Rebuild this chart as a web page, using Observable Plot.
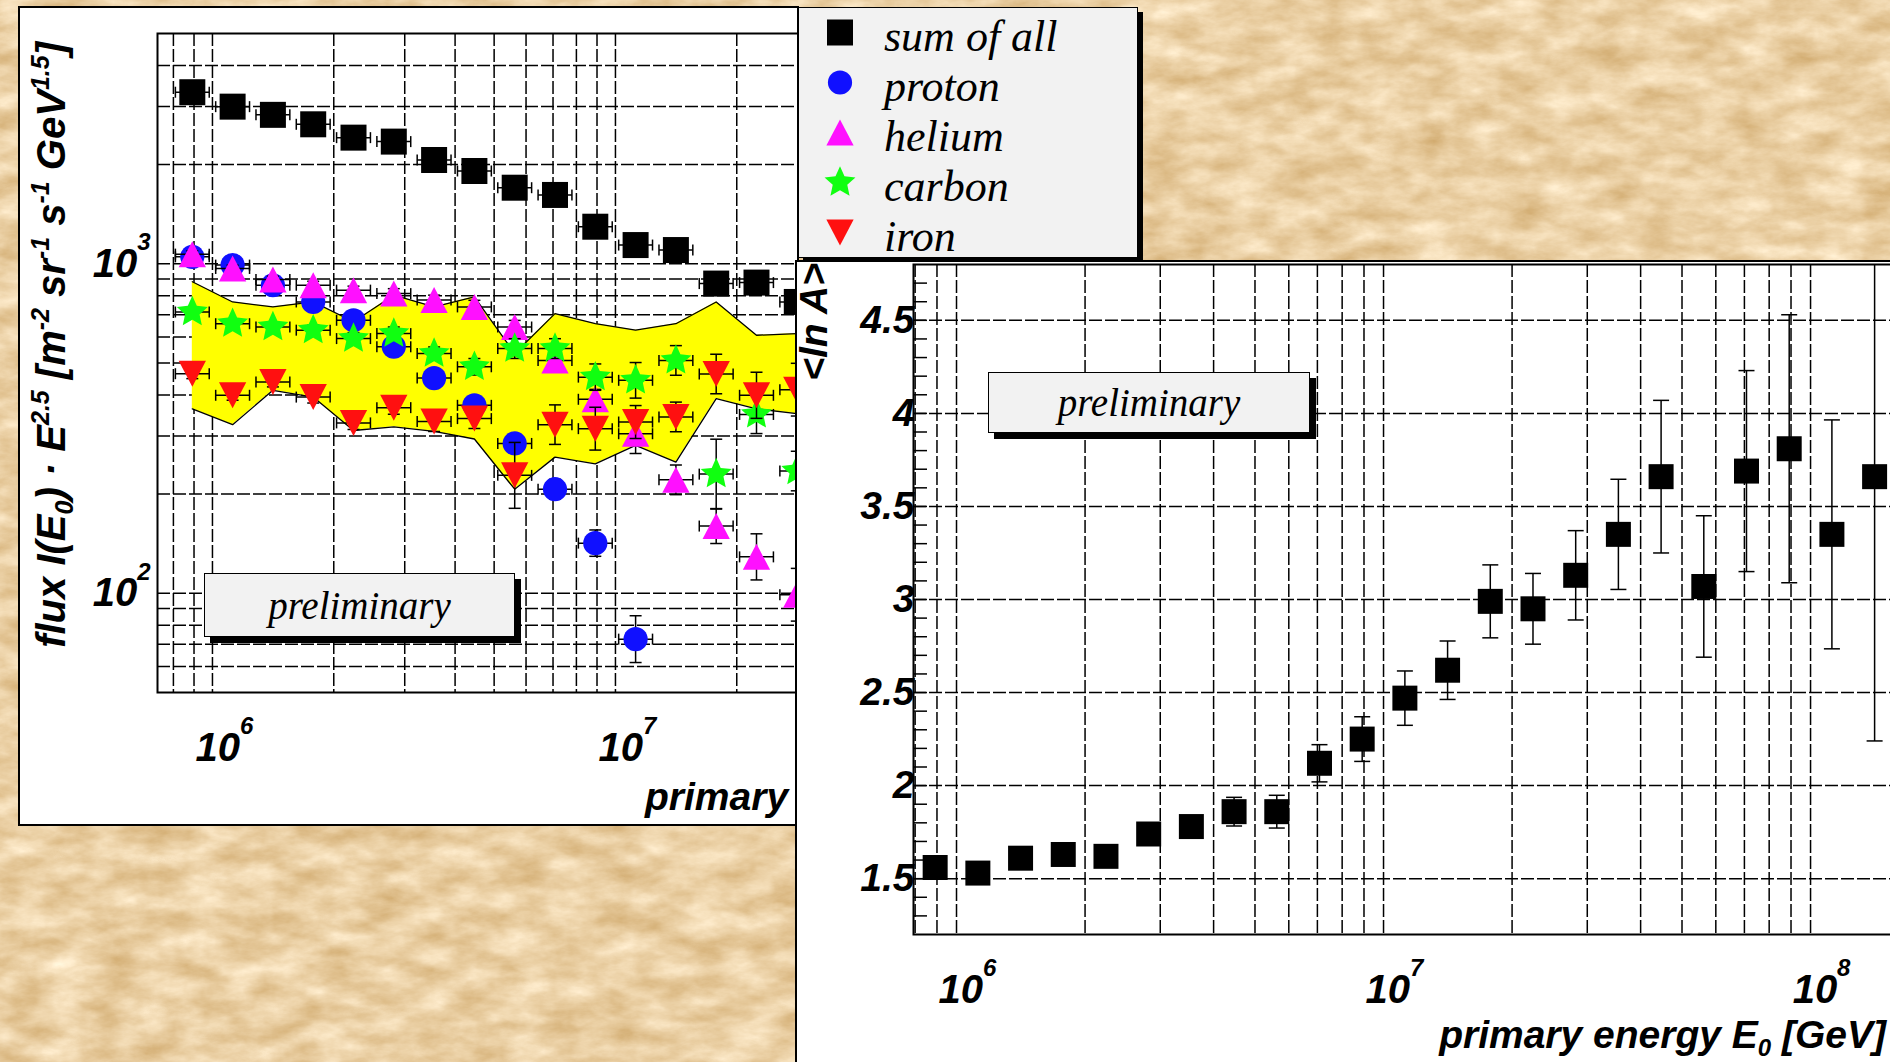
<!DOCTYPE html>
<html>
<head>
<meta charset="utf-8">
<script src="https://cdn.jsdelivr.net/npm/d3@7"></script>
<script src="https://cdn.jsdelivr.net/npm/@observablehq/plot@0.6"></script>
<style>
  html, body { margin: 0; padding: 0; }
  body { width: 1890px; height: 1062px; overflow: hidden; position: relative; background: #e7cfa3; }
  #paper { position: absolute; left: 0; top: 0; }
  .panel { position: absolute; background: #fff; overflow: hidden; }
  .panel > svg { position: absolute; left: 0; top: 0; }
  .frame { position: absolute; inset: 0; border: 2px solid #000; box-sizing: border-box; pointer-events: none; }
  .prelim { position: absolute; background: #f2f2f2; border: 1.5px solid #000; box-sizing: border-box;
            box-shadow: 6px 6px 0 #000; font: italic 39px "Liberation Serif", serif; color: #000;
            display: flex; align-items: center; justify-content: center; }
  #legend { position: absolute; left: 798px; top: 7px; width: 340px; height: 251px; background: #f2f2f2;
            border: 1.5px solid #000; box-sizing: border-box; box-shadow: 5px 5px 0 #000; }
  #legend > svg { position: absolute; left: 0; top: 0; }
  .ttl { font-family: "Liberation Sans", Arial, sans-serif; font-weight: bold; font-style: italic; fill: #000; }
</style>
</head>
<body>
<svg id="paper" width="1890" height="1062">
  <filter id="tex" x="0" y="0" width="100%" height="100%" color-interpolation-filters="sRGB">
    <feTurbulence type="fractalNoise" baseFrequency="0.022 0.045" numOctaves="5" seed="11" result="n"/>
    <feColorMatrix in="n" type="matrix"
      values="0.22 0 0 0 0.81  0.32 0 0 0 0.655  0.46 0 0 0 0.415  0 0 0 0 1"/>
  </filter>
  <rect width="1890" height="1062" filter="url(#tex)"/>
</svg>

<div id="left" class="panel" style="left:18px; top:6px; width:781px; height:820px;"></div>
<div id="legend"></div>
<div id="right" class="panel" style="left:795px; top:260px; width:1095px; height:802px;"></div>

<script>
const ns = "http://www.w3.org/2000/svg";

// ---------- energy spectra, E^2.5-weighted flux per energy bin ----------
const lgE       = [5.95, 6.05, 6.15, 6.25, 6.35, 6.45, 6.55, 6.65, 6.75, 6.85, 6.95, 7.05, 7.15, 7.25, 7.35, 7.45];
const sumAll    = [3317, 2999, 2832, 2651, 2415, 2349, 2066, 1913, 1702, 1618, 1296, 1140, 1101, 871, 877, 766];
const sumAllErr = [0.01, 0.01, 0.01, 0.01, 0.01, 0.01, 0.01, 0.01, 0.01, 0.01, 0.012, 0.012, 0.015, 0.015, 0.02, 0.02];
const proton    = [1050, 991, 861, 766, 674, 560, 450, 372, 285, 207, 142, 72.6];
const protonErr = [0.01, 0.01, 0.01, 0.012, 0.012, 0.015, 0.015, 0.02, 0.025, 0.03, 0.04, 0.071];
const helium    = [1070, 968, 896, 861, 832, 812, 776, 740, 643, 509, 388, 305, 221, 160, 129, 99];
const heliumErr = [0.01, 0.01, 0.01, 0.012, 0.012, 0.015, 0.015, 0.02, 0.02, 0.025, 0.03, 0.06, 0.045, 0.053, 0.07, 0.08];
const carbon    = [714, 658, 643, 629, 593, 614, 534, 487, 553, 553, 453, 443, 509, 230, 349, 235];
const carbonErr = [0.015, 0.015, 0.015, 0.015, 0.018, 0.02, 0.02, 0.025, 0.03, 0.03, 0.04, 0.054, 0.045, 0.106, 0.058, 0.06];
const iron      = [464, 399, 438, 394, 329, 366, 332, 339, 228, 325, 316, 331, 343, 463, 399, 415];
const ironErr   = [0.015, 0.015, 0.015, 0.018, 0.02, 0.02, 0.03, 0.03, 0.1, 0.06, 0.065, 0.05, 0.045, 0.06, 0.07, 0.08];
// systematic band (yellow)
const bandHi    = [882, 766, 740, 766, 667, 803, 740, 794, 534, 706, 658, 629, 658, 766, 607, 614];
const bandLo    = [363, 325, 413, 394, 312, 320, 310, 294, 207, 259, 247, 281, 250, 390, 363, 351];
const binHalfWidth = 0.042;   // horizontal error bar, in log10 units

// ---------- mean logarithmic mass ----------
const lgE_lnA = [5.95, 6.05, 6.15, 6.25, 6.35, 6.45, 6.55, 6.65, 6.75, 6.85, 6.95, 7.05,
                 7.15, 7.25, 7.35, 7.45, 7.55, 7.65, 7.75, 7.85, 7.95, 8.05, 8.15];
const lnA    = [1.56, 1.53, 1.61, 1.63, 1.62, 1.74, 1.78, 1.86, 1.86, 2.12, 2.25, 2.47,
                2.62, 2.99, 2.95, 3.13, 3.35, 3.66, 3.07, 3.69, 3.81, 3.35, 3.66];
const lnAErr = [0.03, 0.03, 0.03, 0.03, 0.03, 0.04, 0.05, 0.077, 0.088, 0.10, 0.12, 0.146,
                0.157, 0.196, 0.19, 0.24, 0.296, 0.41, 0.38, 0.54, 0.72, 0.615, 1.42];

// ---------- tick labels ----------
const fluxDecades   = [100, 1000];
const energyDecades = [1e6, 1e7, 1e8];
const lnATicks      = [1.5, 2, 2.5, 3, 3.5, 4, 4.5];

const seriesNames = ["sum of all", "proton", "helium", "carbon", "iron"];
const seriesColors = ["#000000", "#1010ff", "#ff10ff", "#10ff10", "#ff1010"];

// ---------- marker shapes (size = pi r^2) ----------
const rad = s => Math.sqrt(s / Math.PI);
const symSquare = {draw(c, s) { const r = rad(s); c.rect(-r, -r, 2 * r, 2 * r); }};
const symCircle = {draw(c, s) { const r = rad(s) * 0.93; c.moveTo(r, 0); c.arc(0, 0, r, 0, 2 * Math.PI); }};
const symTriUp = {draw(c, s) { const r = rad(s); c.moveTo(0, -r); c.lineTo(1.05 * r, r); c.lineTo(-1.05 * r, r); c.closePath(); }};
const symTriDown = {draw(c, s) { const r = rad(s); c.moveTo(0, r); c.lineTo(1.05 * r, -r); c.lineTo(-1.05 * r, -r); c.closePath(); }};
const symStar = {draw(c, s) {
  const R = rad(s) * 1.25, ri = R * 0.47;
  for (let i = 0; i < 10; i++) {
    const a = -Math.PI / 2 + i * Math.PI / 5, q = i % 2 ? ri : R;
    i ? c.lineTo(q * Math.cos(a), q * Math.sin(a)) : c.moveTo(q * Math.cos(a), q * Math.sin(a));
  }
  c.closePath();
}};
const capH = {draw(c, s) { const r = rad(s); c.moveTo(-r, 0); c.lineTo(r, 0); }};
const capV = {draw(c, s) { const r = rad(s); c.moveTo(0, -r); c.lineTo(0, r); }};
const seriesSymbols = [symSquare, symCircle, symTriUp, symStar, symTriDown];

const font = "Liberation Sans, Arial, sans-serif";
const svgStyle = {maxWidth: "none", background: "transparent", overflow: "visible"};
const grid = {stroke: "black", strokeOpacity: 1, strokeWidth: 1.5, strokeDasharray: "13,3"};

function rowsOf(values, errs, lg) {
  return values.map((v, i) => ({E: 10 ** lg[i], v, lo: v * 10 ** -errs[i], hi: v * 10 ** errs[i]}));
}

// error bars + marker for one series of the flux plot
function fluxSeries(rows, symbol, color) {
  const f = 10 ** binHalfWidth;
  const bar = {stroke: "black", strokeWidth: 1.5};
  const cap = {stroke: "black", strokeWidth: 1.5, fill: "none"};
  return [
    Plot.link(rows, {x1: d => d.E / f, x2: d => d.E * f, y1: "v", y2: "v", ...bar}),
    Plot.dot(rows, {x: d => d.E / f, y: "v", symbol: capV, r: 5.5, ...cap}),
    Plot.dot(rows, {x: d => d.E * f, y: "v", symbol: capV, r: 5.5, ...cap}),
    Plot.link(rows, {x1: "E", x2: "E", y1: "lo", y2: "hi", ...bar}),
    Plot.dot(rows, {x: "E", y: "hi", symbol: capH, r: 6, ...cap}),
    Plot.dot(rows, {x: "E", y: "lo", symbol: capH, r: 6, ...cap}),
    Plot.dot(rows, {x: "E", y: "v", symbol, r: 13, fill: color, stroke: "none"})
  ];
}

// turn "10^6" labels into a base with a raised exponent
function exponents(svg) {
  svg.querySelectorAll("text").forEach(t => {
    if (!t.textContent.includes("^")) return;
    const [base, exp] = t.textContent.split("^");
    t.textContent = "";
    const a = document.createElementNS(ns, "tspan");
    a.textContent = base;
    const b = document.createElementNS(ns, "tspan");
    b.textContent = exp;
    b.setAttribute("font-size", "0.6em");
    b.setAttribute("dy", "-1.1em");
    t.append(a, b);
  });
}

const decadeText = d => "10^" + Math.round(Math.log10(d));
const labelFont = {fontFamily: font, fontSize: 40, fontWeight: "bold", fontStyle: "italic", fill: "black"};

// ================= left panel: energy spectra =================
{
  const W = 1100, H = 820;
  const xDom = [7.305e5, 1.6e8], yDom = [50, 5000];
  const gx = d3.scaleLog().domain(xDom).ticks().filter(t => t > xDom[0] && t < xDom[1]);
  const gy = d3.scaleLog().domain(yDom).ticks().filter(t => t > yDom[0] && t < yDom[1]);
  const band = bandHi.map((h, i) => ({E: 10 ** lgE[i], hi: h, lo: bandLo[i]}));
  const all = [sumAll, proton, helium, carbon, iron];
  const errs = [sumAllErr, protonErr, heliumErr, carbonErr, ironErr];

  const chart = Plot.plot({
    width: W, height: H,
    marginLeft: 139, marginRight: W - 1082.2, marginTop: 27, marginBottom: H - 686,
    x: {type: "log", domain: xDom, axis: null},
    y: {type: "log", domain: yDom, axis: null},
    style: svgStyle,
    marks: [
      Plot.gridX(gx, grid),
      Plot.gridY(gy, grid),
      Plot.areaY(band, {x: "E", y1: "lo", y2: "hi", fill: "#ffff00"}),
      Plot.line(band, {x: "E", y: "hi", stroke: "black", strokeWidth: 1.3}),
      Plot.line(band, {x: "E", y: "lo", stroke: "black", strokeWidth: 1.3}),
      ...all.flatMap((vals, k) => fluxSeries(rowsOf(vals, errs[k], lgE), seriesSymbols[k], seriesColors[k])),
      Plot.frame({stroke: "black", strokeWidth: 2}),
      Plot.text(energyDecades, {x: d => d, text: decadeText, frameAnchor: "bottom", lineAnchor: "bottom",
                                dy: 68, dx: 12, ...labelFont}),
      Plot.text(fluxDecades, {y: d => d, text: decadeText, frameAnchor: "left", textAnchor: "end",
                              lineAnchor: "middle", dx: -7, ...labelFont})
    ]
  });
  exponents(chart);
  const host = document.getElementById("left");
  host.append(chart);

  const sup = 'font-size="25" baseline-shift="16"';
  host.insertAdjacentHTML("beforeend", `
    <svg width="1200" height="${H}" style="position:absolute;left:0;top:0">
      <text class="ttl" font-size="40" text-anchor="end" transform="translate(47,36) rotate(-90)">flux I(E<tspan font-size="25" baseline-shift="-8">0</tspan>) · E<tspan ${sup}>2.5</tspan> [m<tspan ${sup}>-2</tspan> sr<tspan ${sup}>-1</tspan> s<tspan ${sup}>-1</tspan> GeV<tspan ${sup}>1.5</tspan>]</text>
      <text class="ttl" font-size="39" x="627" y="804">primary energy E<tspan font-size="24" baseline-shift="-8">0</tspan> [GeV]</text>
    </svg>
    <div class="prelim" style="left:186px; top:567px; width:311px; height:64px;">preliminary</div>
    <div class="frame"></div>`);
}

// ================= legend =================
{
  const rows = seriesNames.map((name, k) => ({name, symbol: seriesSymbols[k], color: seriesColors[k]}));
  const legend = Plot.plot({
    width: 337, height: 248, margin: 0,
    x: {domain: [0, 1], range: [40.5, 84.5], axis: null},
    y: {type: "point", domain: seriesNames, range: [23.5, 223.5], padding: 0, axis: null},
    style: svgStyle,
    marks: [
      ...rows.map(s => Plot.dot([s], {x: 0, y: "name", symbol: s.symbol, r: 13, fill: s.color, stroke: "none"})),
      Plot.text(rows, {x: 1, y: "name", text: "name", textAnchor: "start", lineAnchor: "middle", dy: 4,
                       fontFamily: "Liberation Serif, serif", fontStyle: "italic", fontSize: 44, fill: "black"})
    ]
  });
  document.getElementById("legend").append(legend);
}

// ================= right panel: <ln A> =================
{
  const W = 1150, H = 802;
  const xDom = [7.93e5, 2e8], yDom = [1.2, 4.8];
  const gx = d3.scaleLog().domain(xDom).ticks().filter(t => t > xDom[0] && t < xDom[1]);
  const minor = d3.range(13, 48).map(d => d / 10);
  const rows = lnA.map((v, i) => ({E: 10 ** lgE_lnA[i], v, lo: v - lnAErr[i], hi: v + lnAErr[i]}));
  const cap = {stroke: "black", strokeWidth: 1.5, fill: "none"};

  const chart = Plot.plot({
    width: W, height: H,
    marginLeft: 118, marginRight: W - 1143.6, marginTop: 4, marginBottom: H - 674,
    x: {type: "log", domain: xDom, axis: null},
    y: {domain: yDom, clamp: true, axis: null},
    style: svgStyle,
    marks: [
      Plot.gridX(gx, grid),
      Plot.gridY(lnATicks, grid),
      Plot.axisY(minor, {anchor: "left", tickSize: -14, strokeWidth: 1.5, fill: "none", label: null}),
      Plot.link(rows, {x1: "E", x2: "E", y1: "lo", y2: "hi", stroke: "black", strokeWidth: 1.5}),
      Plot.dot(rows.filter(d => d.hi <= yDom[1]), {x: "E", y: "hi", symbol: capH, r: 8, ...cap}),
      Plot.dot(rows.filter(d => d.lo >= yDom[0]), {x: "E", y: "lo", symbol: capH, r: 8, ...cap}),
      Plot.dot(rows, {x: "E", y: "v", symbol: symSquare, r: 12.5, fill: "black", stroke: "none"}),
      Plot.frame({stroke: "black", strokeWidth: 2}),
      Plot.axisY(lnATicks, {anchor: "left", tickSize: 0, tickPadding: -1, tickFormat: d => String(d),
                            label: null, fontFamily: font, fontSize: 39, fontWeight: "bold", fontStyle: "italic"}),
      Plot.text(energyDecades, {x: d => d, text: decadeText, frameAnchor: "bottom", lineAnchor: "bottom",
                                dy: 68, dx: 11, ...labelFont})
    ]
  });
  exponents(chart);
  const host = document.getElementById("right");
  host.append(chart);
  host.insertAdjacentHTML("beforeend", `
    <svg width="${W}" height="${H}" style="position:absolute;left:0;top:0">
      <text class="ttl" font-size="39" text-anchor="end" transform="translate(32,3) rotate(-90)">&lt;ln A&gt;</text>
      <text class="ttl" font-size="39" text-anchor="end" x="1091" y="788">primary energy E<tspan font-size="24" baseline-shift="-8">0</tspan> [GeV]</text>
    </svg>
    <div class="prelim" style="left:193px; top:112px; width:322px; height:61px;">preliminary</div>
    <div class="frame" style="border-right:none; border-bottom:none;"></div>`);
}
</script>
</body>
</html>
